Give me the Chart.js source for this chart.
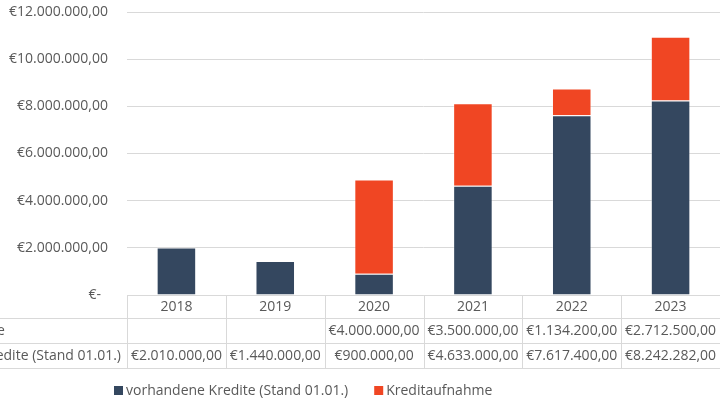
<!DOCTYPE html>
<html>
<head>
<meta charset="utf-8">
<script src="https://cdn.jsdelivr.net/npm/chart.js@4"></script>
<style>
  html, body { margin: 0; padding: 0; background: #fff; }
  #wrap { width: 720px; height: 404px; position: relative; }
</style>
</head>
<body>
<div id="wrap"><canvas id="kreditChart" width="720" height="404"></canvas></div>
<script>
/* ------- Daten ------- */
const jahre = ['2018', '2019', '2020', '2021', '2022', '2023'];
const vorhandeneKredite = [2010000, 1440000, 900000, 4633000, 7617400, 8242282];
const kreditaufnahme = [null, null, 4000000, 3500000, 1134200, 2712500];
const yTicks = [0, 2000000, 4000000, 6000000, 8000000, 10000000, 12000000];

const NAVY = '#34475f';
const ORANGE = '#f04623';
const TEXT = '#595959';
const LINE = '#d9d9d9';
const FONT = '"Open Sans", Lato, sans-serif';
const FS = 14;

/* ------- Formatierung ------- */
function euro(v) {
    if (v === null || v === undefined) return '';
    if (v === 0) return '€-\u2002';
    const fixed = v.toFixed(2).split('.');
    const int = fixed[0].replace(/\B(?=(\d{3})+(?!\d))/g, '.');
    return '€' + int + ',' + fixed[1];
}

/* ------- Datentabelle + Legende ------- */
const tablePlugin = {
    id: 'datenTabelle',
    afterDraw(chart) {
        const { ctx, chartArea } = chart;
        const x = chart.scales.x;
        const left = chartArea.left, right = chartArea.right;
        const top = chartArea.bottom;
        const rows = [top, top + 23, top + 48, top + 73];
        const n = jahre.length;
        const step = (x.getPixelForValue(1) - x.getPixelForValue(0));

        ctx.save();
        ctx.strokeStyle = LINE;
        ctx.lineWidth = 1;
        // horizontale Linien
        ctx.beginPath();
        ctx.moveTo(left, rows[0] + 0.5); ctx.lineTo(right, rows[0] + 0.5);
        for (let i = 1; i < rows.length; i++) {
            ctx.moveTo(0, rows[i] + 0.5); ctx.lineTo(right, rows[i] + 0.5);
        }
        // vertikale Linien
        for (let i = 0; i <= n; i++) {
            const px = Math.round(x.getPixelForValue(i) - step / 2) + 0.5;
            ctx.moveTo(px, rows[0]); ctx.lineTo(px, rows[3]);
        }
        ctx.stroke();

        ctx.fillStyle = TEXT;
        ctx.font = FS + 'px ' + FONT;
        ctx.textBaseline = 'middle';
        ctx.textAlign = 'center';
        const reihen = [kreditaufnahme, vorhandeneKredite];
        jahre.forEach((j, i) => {
            const cx = x.getPixelForValue(i);
            ctx.fillText(j, cx, (rows[0] + rows[1]) / 2 + 1);
            reihen.forEach((r, k) => {
                ctx.fillText(euro(r[i]), cx, (rows[k + 1] + rows[k + 2]) / 2 + 1);
            });
        });

        // Zeilenbeschriftungen (links abgeschnitten, wie im Original)
        const labels = [chart.data.datasets[1].label, chart.data.datasets[0].label];
        const maxW = Math.max(...labels.map(l => ctx.measureText(l).width));
        const startX = left - 6 - maxW;
        ctx.textAlign = 'left';
        labels.forEach((l, k) => {
            ctx.fillText(l, startX, (rows[k + 1] + rows[k + 2]) / 2 + 1);
        });

        // Legende
        const ly = 391;
        let lx = 114;
        chart.data.datasets.forEach((ds, i) => {
            ctx.fillStyle = ds.backgroundColor;
            ctx.fillRect(lx, ly - 5, 9, 9);
            ctx.fillStyle = TEXT;
            ctx.fillText(ds.label, lx + 12, ly);
            lx += 12 + ctx.measureText(ds.label).width + 26;
        });
        ctx.restore();
    }
};

/* ------- Chart ------- */
const ctx = document.getElementById('kreditChart').getContext('2d');
new Chart(ctx, {
    type: 'bar',
    data: {
        labels: jahre,
        datasets: [
            {
                label: 'vorhandene Kredite (Stand 01.01.)',
                data: vorhandeneKredite,
                backgroundColor: NAVY,
                borderColor: 'rgba(255,255,255,0.35)',
                borderWidth: 1,
                barPercentage: 0.4,
                categoryPercentage: 1,
            },
            {
                label: 'Kreditaufnahme',
                data: kreditaufnahme,
                backgroundColor: ORANGE,
                borderColor: 'rgba(255,255,255,0.35)',
                borderWidth: 1,
                barPercentage: 0.4,
                categoryPercentage: 1,
            }
        ]
    },
    options: {
        responsive: false,
        animation: false,
        layout: { padding: { left: 0, right: 0, top: 12, bottom: 109 } },
        plugins: {
            legend: { display: false },
            tooltip: { enabled: false }
        },
        scales: {
            x: {
                stacked: true,
                display: false,
            },
            y: {
                stacked: true,
                min: 0,
                max: 12000000,
                afterFit: s => { s.width = 127; s.paddingTop = 0; s.paddingBottom = 0; },
                afterBuildTicks: s => { s.ticks = yTicks.map(v => ({ value: v })); },
                border: { display: false },
                grid: { color: LINE, drawTicks: false },
                ticks: {
                    color: TEXT,
                    padding: 19,
                    font: { family: FONT, size: FS },
                    callback: v => euro(v)
                }
            }
        }
    },
    plugins: [tablePlugin]
});
</script>
</body>
</html>
